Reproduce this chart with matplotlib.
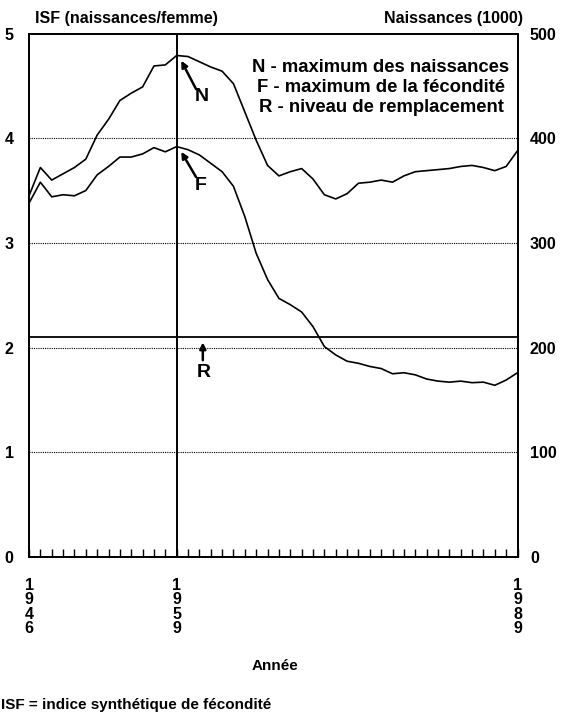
import matplotlib
matplotlib.use("Agg")
import matplotlib.pyplot as plt

plt.rcParams['font.family'] = ['Liberation Sans', 'DejaVu Sans']
plt.rcParams['font.weight'] = 'bold'

years = list(range(1946, 1990))
births = [345, 372, 360, 366, 372, 380, 403, 418, 436, 443, 449, 469, 470, 479,
          478, 473, 468, 464, 452, 425, 398, 374, 364, 368, 371, 361, 346, 342,
          347, 357, 358, 360, 358, 364, 368, 369, 370, 371, 373, 374, 372, 369,
          373, 388]
isf = [3.38, 3.58, 3.44, 3.46, 3.45, 3.50, 3.65, 3.73, 3.82, 3.82, 3.85, 3.91,
       3.87, 3.92, 3.89, 3.84, 3.76, 3.68, 3.54, 3.25, 2.90, 2.65, 2.47, 2.41,
       2.34, 2.20, 2.01, 1.93, 1.87, 1.85, 1.82, 1.80, 1.75, 1.76, 1.74, 1.70,
       1.68, 1.67, 1.68, 1.665, 1.67, 1.64, 1.69, 1.76]
labelled_years = [1946, 1959, 1989]
left_ticks = [0, 1, 2, 3, 4, 5]
right_ticks = [0, 100, 200, 300, 400, 500]
grid_levels = [1, 2, 3, 4]
replacement = 2.1
peak_year = 1959

W, H = 565, 719
fig = plt.figure(figsize=(W / 100, H / 100), dpi=100)

def fx(px):
    return px / W

def fy(py):
    return 1 - py / H

left, right, top, bottom = 29, 517.5, 33.5, 557
ax = fig.add_axes([fx(left), fy(bottom), fx(right) - fx(left), fy(top) - fy(bottom)])
ax2 = ax.twinx()

ax.set_xlim(1946, 1989)
ax.set_ylim(0, 5)
ax2.set_ylim(0, 500)

for g in grid_levels:
    ax.axhline(g, color='black', lw=0.8, ls=(0, (1, 1)), zorder=1)
ax.axhline(replacement, color='black', lw=1.3, zorder=2)
ax.axvline(peak_year, color='black', lw=1.4, zorder=2)

ax.plot(years, isf, color='black', lw=1.2, zorder=3)
ax2.plot(years, births, color='black', lw=1.2, zorder=3)

for a in (ax, ax2):
    for s in a.spines.values():
        s.set_linewidth(1.3)

ax.set_xticks(labelled_years)
ax.set_xticklabels(['\n'.join(str(y)) for y in labelled_years],
                   fontsize=11.5, fontweight='bold', linespacing=0.95)
ax.set_xticks(years, minor=True)
ax.tick_params(axis='x', which='both', direction='in', length=6, width=1, pad=15)
ax.set_yticks(left_ticks)
ax.set_yticklabels([str(t) for t in left_ticks], fontsize=11.5, fontweight='bold')
ax.tick_params(axis='y', length=0, pad=11)
ax2.set_yticks(right_ticks)
ax2.set_yticklabels([str(t) for t in right_ticks], fontsize=11.5, fontweight='bold')
ax2.tick_params(axis='y', length=0, pad=9)

# headers
fig.text(fx(35), fy(18), 'ISF (naissances/femme)', fontsize=11.5, fontweight='bold',
         ha='left', va='center')
fig.text(fx(523), fy(18), 'Naissances (1000)', fontsize=11.5, fontweight='bold',
         ha='right', va='center')

# legend text
legend_lines = ['N - maximum des naissances',
                'F - maximum de la fécondité',
                'R - niveau de remplacement']
for i, t in enumerate(legend_lines):
    fig.text(fx(381), fy(68 + i * 19.5), t, fontsize=13.3, fontweight='bold',
             ha='center', va='center')

# annotations
arrowprops = dict(arrowstyle='-|>', color='black', lw=1.8, mutation_scale=9,
                  shrinkA=0, shrinkB=0)
ax2.annotate('', xy=(1959.4, 474), xytext=(1960.7, 447), arrowprops=arrowprops)
ax2.text(1961.2, 440, 'N', fontsize=14, fontweight='bold', ha='center', va='center')
ax.annotate('', xy=(1959.4, 3.87), xytext=(1960.7, 3.63), arrowprops=arrowprops)
ax.text(1961.1, 3.55, 'F', fontsize=14, fontweight='bold', ha='center', va='center')
ax.annotate('', xy=(1961.3, 2.05), xytext=(1961.3, 1.88), arrowprops=arrowprops)
ax.text(1961.4, 1.76, 'R', fontsize=14, fontweight='bold', ha='center', va='center')

# bottom texts
fig.text(fx(275), fy(666), 'Année', fontsize=11, fontweight='bold',
         ha='center', va='center')
fig.text(fx(1), fy(705), 'ISF = indice synthétique de fécondité', fontsize=11,
         fontweight='bold', ha='left', va='center')

fig.savefig('out.png', dpi=100)
